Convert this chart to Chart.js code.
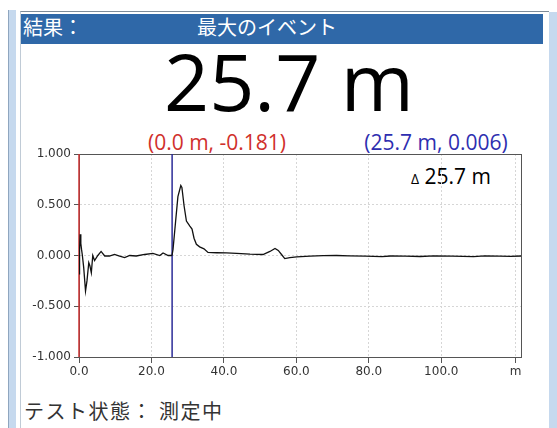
<!DOCTYPE html>
<html>
<head>
<meta charset="utf-8">
<script src="https://cdn.jsdelivr.net/npm/chart.js@4.4.1/dist/chart.umd.min.js"></script>
<style>
  body { margin: 0; width: 557px; height: 428px; overflow: hidden; background: #fff; position: relative; font-family: "Open Sans", sans-serif; }
  .abs { position: absolute; white-space: nowrap; }
  .jp { font-family: "Noto Sans CJK JP", sans-serif; }
  #stripeL { left: 8px; top: 10px; width: 7px; height: 418px; background: #c6d9ee; border-left: 1px solid #8fa6bf; }
  #stripeR { left: 549px; top: 12px; width: 8px; height: 416px; background: #c6d9ee; }
  #frame { left: 20px; top: 11px; width: 528px; height: 417px; border-top: 1px solid #7f8c99; border-left: 1px solid #c0cbd6; }
  #header { left: 21px; top: 14px; width: 522px; height: 30px; background: #2f68a8; }
  .hdr { color: #fff; font-size: 20px; line-height: 25px; top: 14px; }
  #big { left: 0; width: 578px; top: 41px; text-align: center; font-size: 79px; line-height: 80px; color: #000; }
  .cur { font-size: 21px; line-height: 20px; top: 132px; transform: translateX(-50%); }
  #delta { left: 411px; top: 166px; font-size: 21px; line-height: 20px; color: #000; }
  #delta span { font-size: 14px; }
  #status { left: 24px; top: 401px; font-size: 20px; line-height: 20px; color: #333; letter-spacing: 1.5px; }
  #chartBox { left: 0; top: 130px; width: 557px; height: 280px; }
</style>
</head>
<body>
<div class="abs" id="stripeL"></div>
<div class="abs" id="stripeR"></div>
<div class="abs" id="frame"></div>
<div class="abs" id="header"></div>
<div class="abs hdr jp" style="left:23px">結果：</div>
<div class="abs hdr jp" style="left:197px">最大のイベント</div>
<div class="abs" id="big">25.7 m</div>
<div class="abs cur" id="curA" style="left:217px;color:#d0302c"></div>
<div class="abs cur" id="curB" style="left:436px;color:#2e2eb0"></div>
<div class="abs" id="delta"></div>
<div class="abs jp" id="status">テスト状態： 測定中</div>
<div class="abs" id="chartBox"><canvas id="trace" width="557" height="280"></canvas></div>

<script>
// trace (distance in m, amplitude)
const distances = [0, 0.15, 0.33, 0.5, 0.7, 0.9, 1.3, 1.8, 2.2, 2.7, 3.0, 3.4, 3.8, 4.3, 5.2, 6.1, 7.1, 8.4, 9.8, 11.2, 12.6, 14.0, 15.8, 18.1, 20.4, 22.3, 23.2, 24.6, 25.5, 25.7,
  25.95, 26.7, 27.3, 28.1, 28.4, 29.0, 29.65, 30.6, 31.2, 31.75, 32.4, 33.3, 34.5, 35.6, 38.0, 40.7, 43.5, 47.2, 50.8,
  52.7, 54.1, 55.0, 55.9, 56.8, 58.2, 60.1, 63.8, 67.4, 71.1, 74.6, 79.0, 83.6, 86.0, 90.0, 94.2, 98.0, 103.0, 108.9, 112.0, 116.0, 119.1, 122.0];
const amplitudes = [-0.181, 0.05, 0.21, 0.12, 0.06, 0.01, -0.12, -0.35, -0.25, -0.07, -0.1, -0.17, 0.0, -0.05, 0.0, 0.04, -0.005, -0.005, 0.01, -0.005, -0.02, 0.0, -0.005, 0.01, 0.02, 0.0, 0.025, 0.0, 0.0, 0.006,
  0.06, 0.35, 0.58, 0.69, 0.67, 0.49, 0.34, 0.29, 0.26, 0.17, 0.11, 0.085, 0.066, 0.03, 0.027, 0.025, 0.02, 0.013, 0.01,
  0.04, 0.07, 0.05, 0.01, -0.03, -0.02, -0.013, -0.007, -0.002, 0.0, -0.003, -0.006, -0.012, -0.005, -0.006, -0.01, -0.004, -0.006, -0.011, -0.004, -0.006, -0.009, -0.005];

const cursorPositions = [0.0, 25.7];
const cursorValues = [-0.181, 0.006];
const cursorColors = ['#cc3333', '#2c2c98'];

const xTickValues = [0, 20, 40, 60, 80, 100, 120.5];
const xTickLabels = ['0.0', '20.0', '40.0', '60.0', '80.0', '100.0', 'm'];
const yTickValues = [-1, -0.5, 0, 0.5, 1];
const yTickLabels = ['-1.000', '-0.500', '0.000', '0.500', '1.000'];

document.getElementById('curA').textContent = `(${cursorPositions[0].toFixed(1)} m, ${cursorValues[0].toFixed(3)})`;
document.getElementById('curB').textContent = `(${cursorPositions[1].toFixed(1)} m, ${cursorValues[1].toFixed(3)})`;
document.getElementById('delta').innerHTML = `<span>Δ</span> ${(cursorPositions[1] - cursorPositions[0]).toFixed(1)} m`;

// solid dark frame round the plot area
const plotFrame = {
  id: 'plotFrame',
  beforeDatasetsDraw(chart) {
    const { ctx, chartArea: a } = chart;
    ctx.save();
    ctx.strokeStyle = '#555';
    ctx.lineWidth = 1;
    ctx.strokeRect(Math.round(a.left) + 0.5, Math.round(a.top) + 0.5, Math.round(a.right - a.left), Math.round(a.bottom - a.top));
    ctx.restore();
  }
};

const tickFont = { family: 'DejaVu Sans', size: 12 };

const cursorSets = cursorPositions.map((pos, i) => ({
  data: [{ x: pos, y: -1 }, { x: pos, y: 1 }],
  borderColor: cursorColors[i],
  borderWidth: 1.5,
  pointRadius: 0,
  clip: false,
  order: 2
}));

new Chart(document.getElementById('trace'), {
  type: 'line',
  data: {
    datasets: [{
      data: distances.map((d, i) => ({ x: d, y: amplitudes[i] })),
      borderColor: '#111',
      borderWidth: 1.3,
      pointRadius: 0,
      tension: 0,
      order: 1
    }, ...cursorSets]
  },
  options: {
    responsive: false,
    animation: false,
    layout: { padding: { top: 24, right: 36, bottom: 0, left: 0 } },
    plugins: { legend: { display: false }, tooltip: { enabled: false } },
    scales: {
      x: {
        type: 'linear', min: 0, max: 122,
        afterBuildTicks: s => { s.ticks = xTickValues.map(v => ({ value: v })); },
        afterFit: s => { s.height = 53; },
        ticks: { callback: (v, i) => xTickLabels[i], autoSkip: false, maxRotation: 0, padding: 2, color: '#333', font: tickFont },
        grid: { color: '#d6d6d6', tickColor: '#555', tickLength: 6 },
        border: { display: true, color: '#555', dash: [2, 2] }
      },
      y: {
        min: -1, max: 1,
        afterBuildTicks: s => { s.ticks = yTickValues.map(v => ({ value: v })); },
        afterFit: s => { s.width = 79; },
        ticks: { callback: (v, i) => yTickLabels[i], padding: 3, color: '#333', font: tickFont },
        grid: { color: '#d6d6d6', tickColor: '#555', tickLength: 5 },
        border: { display: true, color: '#555', dash: [2, 2] }
      }
    }
  },
  plugins: [plotFrame]
});
</script>
</body>
</html>
